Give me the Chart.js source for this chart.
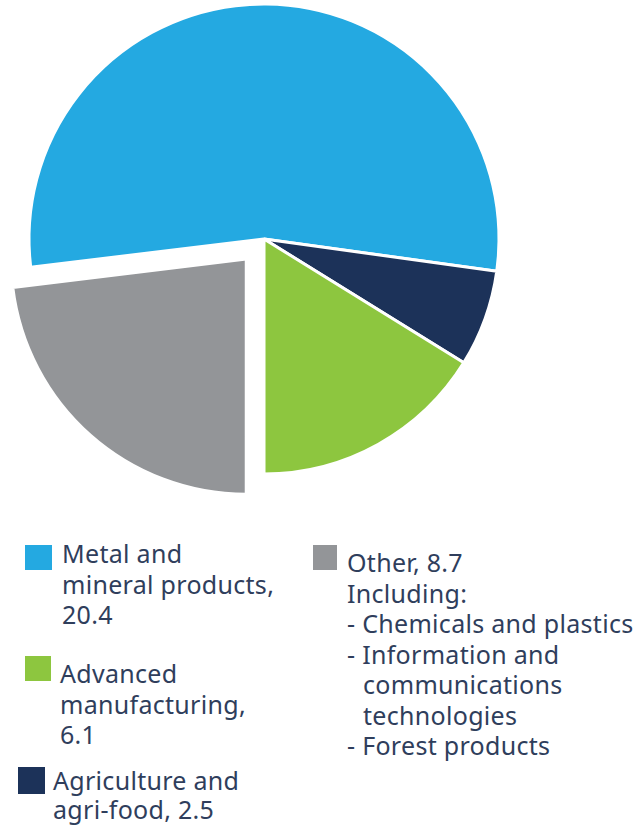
<!DOCTYPE html>
<html lang="en">
<head>
  <meta charset="UTF-8">
  <title>Investment by sector</title>
  <script src="https://cdn.jsdelivr.net/npm/chart.js"></script>
  <style>
    body {
      margin: 0;
      width: 641px;
      height: 826px;
      overflow: hidden;
      position: relative;
      background: #fff;
      font-family: "Noto Sans", sans-serif;
    }
    .chart-box {
      position: absolute;
      left: 0;
      top: 0;
    }
    .legend-item {
      position: absolute;
      color: #2f3e5c;
      font-size: 25px;
      letter-spacing: 0.3px;
      line-height: 30.5px;
      width: 220px;
    }
    .swatch {
      position: absolute;
    }
    .includes {
      list-style: none;
      margin: 0;
      padding: 0;
    }
    .includes li {
      padding-left: 16px;
      text-indent: -16px;
    }
  </style>
</head>
<body>
  <div class="chart-box">
    <canvas id="sectorPie" width="641" height="530"></canvas>
  </div>
  <div id="legend"></div>

  <script>
    // Sectors, clockwise from the top of the pie
    const sectors = [
      ['Metal and', 'mineral products'],
      ['Agriculture and', 'agri-food'],
      ['Advanced', 'manufacturing'],
      ['Other']
    ];
    const shares = [20.4, 2.5, 6.1, 8.7];
    const sliceColors = ['#24a9e1', '#1c3259', '#8dc63f', '#939598'];
    const otherIncludes = ['Chemicals and plastics', 'Information and communications technologies', 'Forest products'];

    // "Other" starts at six o'clock, so turn the pie back by its angle
    const total = shares.reduce((a, b) => a + b, 0);
    const otherAngle = shares[3] / total * 360;

    new Chart(document.getElementById('sectorPie'), {
      type: 'pie',
      data: {
        labels: sectors,
        datasets: [{
          data: shares,
          backgroundColor: sliceColors,
          borderColor: '#ffffff',
          borderWidth: 3,
          offset: [0, 0, 0, 107]
        }]
      },
      options: {
        responsive: false,
        animation: false,
        events: [],
        rotation: otherAngle - 180,
        radius: 235,
        layout: { padding: { left: 0, top: 0, right: 113, bottom: 52 } },
        plugins: {
          legend: { display: false },
          tooltip: { enabled: false }
        }
      }
    });

    // Legend: two columns under the pie
    const legendOrder = [0, 2, 1, 3];
    const legendSpots = [
      { sw: [25, 545, 27, 25], x: 62, y: 538 },
      { sw: [25, 656, 26, 25], x: 60, y: 658 },
      { sw: [18, 767, 27, 27], x: 53, y: 766, lh: 28.5 },
      { sw: [313, 545, 24, 25], x: 347, y: 547, w: 300 }
    ];

    const legend = document.getElementById('legend');
    legendOrder.forEach((i, n) => {
      const spot = legendSpots[n];
      const sw = document.createElement('div');
      sw.className = 'swatch';
      sw.style.cssText = `left:${spot.sw[0]}px;top:${spot.sw[1]}px;width:${spot.sw[2]}px;height:${spot.sw[3]}px;background:${sliceColors[i]}`;
      legend.appendChild(sw);

      const item = document.createElement('div');
      item.className = 'legend-item';
      item.style.left = spot.x + 'px';
      item.style.top = spot.y + 'px';
      if (spot.w) item.style.width = spot.w + 'px';
      if (spot.lh) item.style.lineHeight = spot.lh + 'px';
      const lines = sectors[i];
      let html = lines.slice(0, -1).map(l => `<div>${l}</div>`).join('');
      html += `<div>${lines[lines.length - 1]}, <span style="white-space:nowrap">${shares[i]}</span></div>`;
      if (i === 3) {
        html += '<div>Including:</div><ul class="includes">' +
          otherIncludes.map(t => `<li>- ${t}</li>`).join('') + '</ul>';
      }
      item.innerHTML = html;
      legend.appendChild(item);
    });
  </script>
</body>
</html>
